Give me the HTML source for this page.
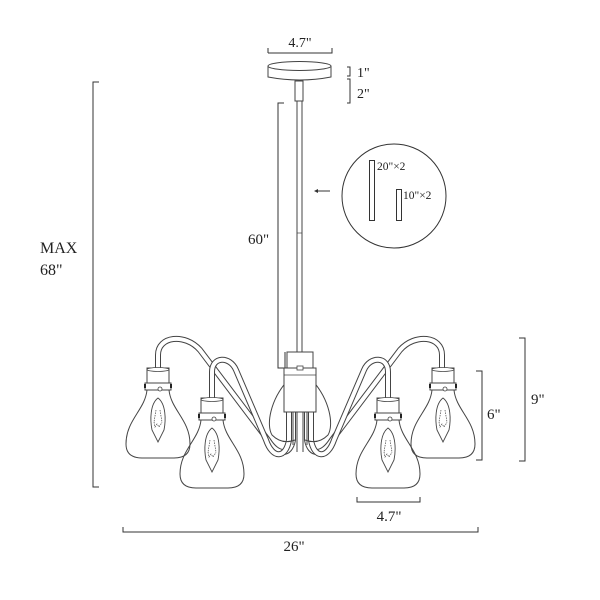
<!DOCTYPE html>
<html><head><style>
html,body{margin:0;padding:0;background:#fff;}
svg{display:block;}
text{font-family:"Liberation Serif",serif;fill:#222;}
</style></head><body>
<svg width="600" height="600" viewBox="0 0 600 600" xmlns="http://www.w3.org/2000/svg">
<defs>
<g id="lamp">
  <path d="M-11,20 C-13,40 -32,50 -32,74 Q-32,88 -16,88 L16,88 Q32,88 32,74 C32,50 13,40 11,20" fill="none" stroke="#444" stroke-width="1"/>
  <path d="M0,28 C-8,34 -8,50 -6,60 L0,72 L6,60 C8,50 8,34 0,28 Z" fill="none" stroke="#444" stroke-width="0.9"/>
  <path d="M-4,52 L-3,57 L-1,54 L1,57 L3,54 L4,52 M-2,40 L-4,52 M2,40 L4,52" fill="none" stroke="#444" stroke-width="0.7" stroke-dasharray="1.5,1"/>
  <rect x="-11" y="-2" width="22" height="15" fill="#fff" stroke="#444" stroke-width="1"/>
  <ellipse cx="0" cy="-0.5" rx="11" ry="2" fill="#fff" stroke="#444" stroke-width="0.8"/>
  <rect x="-13" y="13" width="26" height="7" fill="#fff" stroke="#444" stroke-width="1"/>
  <rect x="-14" y="14" width="2" height="4" fill="#222"/>
  <rect x="12" y="14" width="2" height="4" fill="#222"/>
  <circle cx="2" cy="19" r="2" fill="#fff" stroke="#444" stroke-width="0.8"/>
</g>
<g id="arms">
  <path d="M158,372 L158,355 C158,336 185,333 200,350 L268,440 C278,456 290,456 293,440 L293,410" fill="none" stroke="#444" stroke-width="6"/>
  <path d="M158,372 L158,355 C158,336 185,333 200,350 L268,440 C278,456 290,456 293,440 L293,410" fill="none" stroke="#fff" stroke-width="4"/>
  <path d="M212,402 L212,372 C212,356 230,356 236,370 L266,440 C273,460 286,458 289,440 L289,410" fill="none" stroke="#444" stroke-width="6"/>
  <path d="M212,402 L212,372 C212,356 230,356 236,370 L266,440 C273,460 286,458 289,440 L289,410" fill="none" stroke="#fff" stroke-width="4"/>
</g>
</defs>

<path d="M268,53 L268,48 M268,53 L332,53 L332,48" fill="none" stroke="#333" stroke-width="1"/>
<text x="300" y="47" font-size="14" text-anchor="middle">4.7"</text>
<path d="M268,66 L268,77 Q300,83 331,77 L331,66" fill="#fff" stroke="#444" stroke-width="1"/>
<ellipse cx="299.5" cy="66" rx="31.5" ry="4.5" fill="#fff" stroke="#444" stroke-width="1"/>
<rect x="295" y="81" width="8" height="20" fill="#fff" stroke="#444" stroke-width="1"/>
<rect x="297" y="101" width="5" height="252" fill="#fff" stroke="#444" stroke-width="1"/>
<line x1="297" y1="233" x2="302" y2="233" stroke="#444" stroke-width="0.7"/>
<path d="M347,67 L350,67 L350,76 L347,76 M347,79 L350,79 L350,103 L347,103" fill="none" stroke="#333" stroke-width="1"/>
<text x="357" y="77" font-size="14">1"</text>
<text x="357" y="98" font-size="14">2"</text>
<path d="M284,103 L278,103 L278,368 L285,368 L285,352" fill="none" stroke="#333" stroke-width="1"/>
<text x="248" y="244" font-size="15">60"</text>
<circle cx="394" cy="196" r="52" fill="none" stroke="#333" stroke-width="1"/>
<line x1="330" y1="191" x2="315" y2="191" stroke="#333" stroke-width="1"/>
<path d="M314,191 L318,189 L318,193 Z" fill="#333"/>
<rect x="369.5" y="160.5" width="5" height="60" fill="none" stroke="#333" stroke-width="1"/>
<text x="377" y="170" font-size="11.5">20"×2</text>
<rect x="396.5" y="189.5" width="5" height="31" fill="none" stroke="#333" stroke-width="1"/>
<text x="403" y="199" font-size="11.5">10"×2</text>
<path d="M99,82 L93,82 L93,487 L99,487" fill="none" stroke="#333" stroke-width="1"/>
<text x="40" y="253" font-size="16">MAX</text>
<text x="40" y="275" font-size="16">68"</text>

<use href="#arms"/>
<use href="#arms" transform="translate(600,0) scale(-1,1)"/>

<path d="M288,380 C270,400 266,425 272,435 Q282,445 295,440 M312,380 C330,400 334,425 328,435 Q318,445 305,440" fill="none" stroke="#444" stroke-width="1"/>
<rect x="287" y="352" width="26" height="16" fill="#fff" stroke="#444" stroke-width="1"/>
<rect x="284" y="368" width="32" height="44" fill="#fff" stroke="#444" stroke-width="1"/>
<line x1="284" y1="375" x2="316" y2="375" stroke="#444" stroke-width="0.8"/>
<rect x="297" y="366" width="6" height="4" fill="#fff" stroke="#444" stroke-width="0.8"/>
<path d="M293,412 L293,445 M297,412 L297,452 M303,412 L303,452 M307,412 L307,445" stroke="#444" stroke-width="1"/>

<use href="#lamp" transform="translate(158,370)"/>
<use href="#lamp" transform="translate(443,370)"/>
<use href="#lamp" transform="translate(212,400)"/>
<use href="#lamp" transform="translate(388,400)"/>

<path d="M476,371 L482,371 L482,460 L476,460" fill="none" stroke="#333" stroke-width="1"/>
<text x="487" y="419" font-size="15">6"</text>
<path d="M519,338 L525,338 L525,461 L519,461" fill="none" stroke="#333" stroke-width="1"/>
<text x="531" y="404" font-size="15">9"</text>
<path d="M357,497 L357,502 L420,502 L420,497" fill="none" stroke="#333" stroke-width="1"/>
<text x="389" y="521" font-size="15" text-anchor="middle">4.7"</text>
<path d="M123,527 L123,532 L478,532 L478,527" fill="none" stroke="#333" stroke-width="1"/>
<text x="294" y="551" font-size="15" text-anchor="middle">26"</text>
</svg>
</body></html>
